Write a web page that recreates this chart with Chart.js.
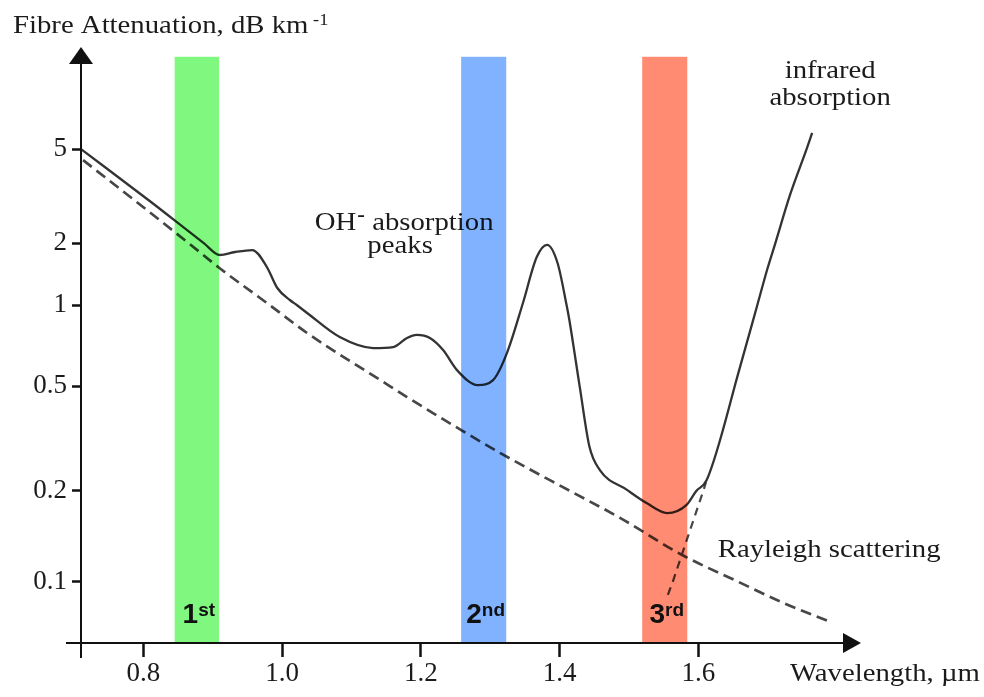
<!DOCTYPE html>
<html>
<head>
<meta charset="utf-8">
<title>Fibre attenuation</title>
<script src="https://cdn.jsdelivr.net/npm/chart.js@4.4.1/dist/chart.umd.min.js"></script>
<style>
  html, body { margin: 0; padding: 0; background: #fff; }
  #wrap { width: 984px; height: 697px; }
</style>
</head>
<body>
<div id="wrap"><canvas id="fibreChart" width="984" height="697"></canvas></div>
<script>
// --- values (wavelength in um, loss in dB/km) ---
const totalWavelength = [0.71, 0.81, 0.887, 0.910, 0.932, 0.957, 0.978, 0.993, 1.011, 1.021,
  1.036, 1.083, 1.131, 1.160, 1.180, 1.194, 1.213, 1.232, 1.252, 1.282,
  1.304, 1.324, 1.347, 1.367, 1.382, 1.397, 1.410, 1.414, 1.429, 1.443,
  1.458, 1.497, 1.526, 1.555, 1.583, 1.597, 1.612, 1.660, 1.685, 1.699,
  1.711, 1.732, 1.756, 1.764];
const totalLoss = [5.0, 3.0, 2.0, 1.75, 1.81, 1.85, 1.53, 1.21, 1.058, 1.0,
  0.934, 0.76, 0.692, 0.698, 0.754, 0.774, 0.754, 0.680, 0.573, 0.504,
  0.526, 0.663, 1.02, 1.71, 1.96, 1.60, 1.0, 0.88, 0.496, 0.294,
  0.240, 0.202, 0.182, 0.169, 0.180, 0.2, 0.220, 0.588, 1.0, 1.48,
  2.0, 3.19, 5.0, 5.85];

const rayleighWavelength = [0.713, 0.805, 0.865, 0.910, 0.982, 1.036, 1.155, 1.180, 1.314, 1.415,
  1.487, 1.576, 1.658, 1.722, 1.790];
const rayleighLoss = [4.49, 2.76, 2.0, 1.51, 1.0, 0.787, 0.5, 0.454, 0.279, 0.2,
  0.163, 0.123, 0.1, 0.0853, 0.0738];

const infraredWavelength = [1.556, 1.563, 1.607, 1.611];
const infraredLoss = [0.0906, 0.1, 0.2, 0.216];

// transmission windows
const windowNumber = ['1', '2', '3'];
const windowSuffix = ['st', 'nd', 'rd'];
const windowStart = [0.845, 1.258, 1.519];
const windowEnd = [0.909, 1.323, 1.584];

const xTicks = [0.8, 1.0, 1.2, 1.4, 1.6];
const yTicks = [0.1, 0.2, 0.5, 1, 2, 5];

// --- styling ---
const bandColors = ['#80f880', '#80b2ff', '#ff8c72'];
const ink = '#1b1b1b';
const serif = '"Liberation Serif", "Times New Roman", serif';
const sans = '"Liberation Sans", Arial, sans-serif';
const textStretch = 1.15; // the printed figure is a little wide

// The printed y axis is a hand drawn log axis, its ticks are not evenly
// spaced per decade. Spacing of the printed ticks along the axis:
const yTickHeights = [61, 152, 257, 338, 400, 494];
const logTicks = yTicks.map(Math.log10);

function warp(v) {
    const l = Math.log10(v);
    let i = 0;
    while (i < logTicks.length - 2 && l > logTicks[i + 1]) i++;
    return yTickHeights[i] + (l - logTicks[i]) * (yTickHeights[i + 1] - yTickHeights[i]) / (logTicks[i + 1] - logTicks[i]);
}

function unwarp(u) {
    let i = 0;
    while (i < yTickHeights.length - 2 && u > yTickHeights[i + 1]) i++;
    const l = logTicks[i] + (u - yTickHeights[i]) * (logTicks[i + 1] - logTicks[i]) / (yTickHeights[i + 1] - yTickHeights[i]);
    return Math.pow(10, l);
}

class WarpedLogScale extends Chart.LinearScale {
    getPixelForValue(value) {
        const lo = warp(this.min), hi = warp(this.max);
        return this.getPixelForDecimal((warp(value) - lo) / (hi - lo));
    }
    getValueForPixel(pixel) {
        const lo = warp(this.min), hi = warp(this.max);
        return unwarp(lo + this.getDecimalForPixel(pixel) * (hi - lo));
    }
}
WarpedLogScale.id = 'warpedLog';
WarpedLogScale.defaults = {};
Chart.register(WarpedLogScale);

function toPoints(xs, ys) {
    return xs.map((x, i) => ({ x: x, y: ys[i] }));
}

// text with a horizontal stretch, returns drawn width
function stretched(ctx, text, x, y, align) {
    const w = ctx.measureText(text).width * textStretch;
    let left = x;
    if (align === 'center') left = x - w / 2;
    if (align === 'right') left = x - w;
    ctx.save();
    ctx.translate(left, y);
    ctx.scale(textStretch, 1);
    ctx.textAlign = 'left';
    ctx.fillText(text, 0, 0);
    ctx.restore();
    return w;
}

const figurePlugin = {
    id: 'figure',
    afterDatasetsDraw(chart) {
        const { ctx, chartArea: area, scales: { x, y } } = chart;
        ctx.save();
        ctx.fillStyle = ink;
        ctx.textBaseline = 'alphabetic';

        // annotations, drawn before the bands so the bands tint them
        ctx.font = '25px ' + serif;
        stretched(ctx, 'infrared', x.getPixelForValue(1.79), y.getPixelForValue(10.0), 'center');
        stretched(ctx, 'absorption', x.getPixelForValue(1.79), y.getPixelForValue(7.67), 'center');
        stretched(ctx, 'Rayleigh scattering', x.getPixelForValue(1.628), y.getPixelForValue(0.121), 'left');

        let ox = x.getPixelForValue(1.047);
        const oy = y.getPixelForValue(2.27);
        ox += stretched(ctx, 'OH', ox, oy, 'left');
        ctx.font = 'bold 20px ' + serif;
        ox += stretched(ctx, '-', ox + 1, oy - 9, 'left') + 1;
        ctx.font = '25px ' + serif;
        stretched(ctx, ' absorption', ox, oy, 'left');
        stretched(ctx, 'peaks', x.getPixelForValue(1.17), y.getPixelForValue(1.79), 'center');

        // transmission windows, multiplied over the curves
        ctx.globalCompositeOperation = 'multiply';
        const bandTop = y.getPixelForValue(12.3);
        windowStart.forEach((s, i) => {
            const l = x.getPixelForValue(s);
            const r = x.getPixelForValue(windowEnd[i]);
            ctx.fillStyle = bandColors[i];
            ctx.fillRect(l, bandTop, r - l, area.bottom - bandTop);
        });
        ctx.globalCompositeOperation = 'source-over';

        // window labels
        ctx.fillStyle = '#111';
        const base = y.getPixelForValue(0.0732);
        windowStart.forEach((s, i) => {
            const mid = (x.getPixelForValue(s) + x.getPixelForValue(windowEnd[i])) / 2;
            ctx.font = 'bold 28px ' + sans;
            const w1 = ctx.measureText(windowNumber[i]).width;
            ctx.font = 'bold 19px ' + sans;
            const w2 = ctx.measureText(windowSuffix[i]).width;
            const left = mid - (w1 + w2) / 2 + 2;
            ctx.font = 'bold 28px ' + sans;
            ctx.fillText(windowNumber[i], left, base);
            ctx.font = 'bold 19px ' + sans;
            ctx.fillText(windowSuffix[i], left + w1, base - 7);
        });
        ctx.restore();
    },
    afterDraw(chart) {
        const { ctx, chartArea: area } = chart;
        ctx.save();
        ctx.strokeStyle = '#111';
        ctx.fillStyle = '#111';
        ctx.lineWidth = 2;

        // axes with arrow heads
        ctx.beginPath();
        ctx.moveTo(area.left, area.top + 12);
        ctx.lineTo(area.left, area.bottom + 15);
        ctx.moveTo(area.left - 15, area.bottom);
        ctx.lineTo(area.right - 14, area.bottom);
        ctx.stroke();

        ctx.beginPath();
        ctx.moveTo(area.left, area.top - 1);
        ctx.lineTo(area.left - 12, area.top + 16);
        ctx.lineTo(area.left + 12, area.top + 16);
        ctx.closePath();
        ctx.fill();

        ctx.beginPath();
        ctx.moveTo(area.right + 1, area.bottom);
        ctx.lineTo(area.right - 17, area.bottom - 10);
        ctx.lineTo(area.right - 17, area.bottom + 10);
        ctx.closePath();
        ctx.fill();

        // axis titles
        ctx.fillStyle = ink;
        ctx.textBaseline = 'alphabetic';
        ctx.font = '25px ' + serif;
        let tx = area.left - 68;
        tx += stretched(ctx, 'Fibre Attenuation, dB km', tx, area.top - 15, 'left');
        ctx.font = '16px ' + serif;
        stretched(ctx, ' -1', tx, area.top - 23, 'left');

        ctx.font = '25px ' + serif;
        stretched(ctx, 'Wavelength, \u00b5m', area.right - 70, area.bottom + 38, 'left');
        ctx.restore();
    }
};

const ctx = document.getElementById('fibreChart').getContext('2d');
new Chart(ctx, {
    type: 'line',
    data: {
        datasets: [
            {
                label: 'Total attenuation',
                data: toPoints(totalWavelength, totalLoss),
                borderColor: '#333',
                borderWidth: 2.3,
                cubicInterpolationMode: 'monotone'
            },
            {
                label: 'Rayleigh scattering',
                data: toPoints(rayleighWavelength, rayleighLoss),
                borderColor: '#474747',
                borderWidth: 2.7,
                borderDash: [11, 6],
                cubicInterpolationMode: 'monotone'
            },
            {
                label: 'Infrared absorption',
                data: toPoints(infraredWavelength, infraredLoss),
                borderColor: '#474747',
                borderWidth: 2.2,
                borderDash: [8, 6],
                tension: 0
            }
        ]
    },
    options: {
        responsive: false,
        animation: false,
        events: [],
        layout: { padding: { top: 48, right: 124, left: 0, bottom: 0 } },
        elements: { point: { radius: 0 } },
        plugins: {
            legend: { display: false },
            tooltip: { enabled: false }
        },
        scales: {
            x: {
                type: 'linear',
                min: 0.71,
                max: 1.833,
                bounds: 'data',
                afterBuildTicks: scale => { scale.ticks = xTicks.map(v => ({ value: v })); },
                afterFit: scale => { scale.height = 54; },
                border: { display: false },
                grid: { drawOnChartArea: false, tickLength: 14, tickWidth: 2.5, tickColor: '#111' },
                ticks: {
                    autoSkip: false,
                    maxRotation: 0,
                    padding: 1,
                    color: ink,
                    font: { family: serif, size: 27 },
                    callback: v => v.toFixed(1)
                }
            },
            y: {
                type: 'warpedLog',
                min: 0.0628,
                max: 13.4,
                bounds: 'data',
                afterBuildTicks: scale => { scale.ticks = yTicks.map(v => ({ value: v })); },
                afterFit: scale => { scale.width = 81; },
                border: { display: false },
                grid: { drawOnChartArea: false, tickLength: 9, tickWidth: 2.5, tickColor: '#111' },
                ticks: {
                    autoSkip: false,
                    padding: 5,
                    color: ink,
                    font: { family: serif, size: 27 },
                    callback: v => String(v)
                }
            }
        }
    },
    plugins: [figurePlugin]
});
</script>
</body>
</html>
